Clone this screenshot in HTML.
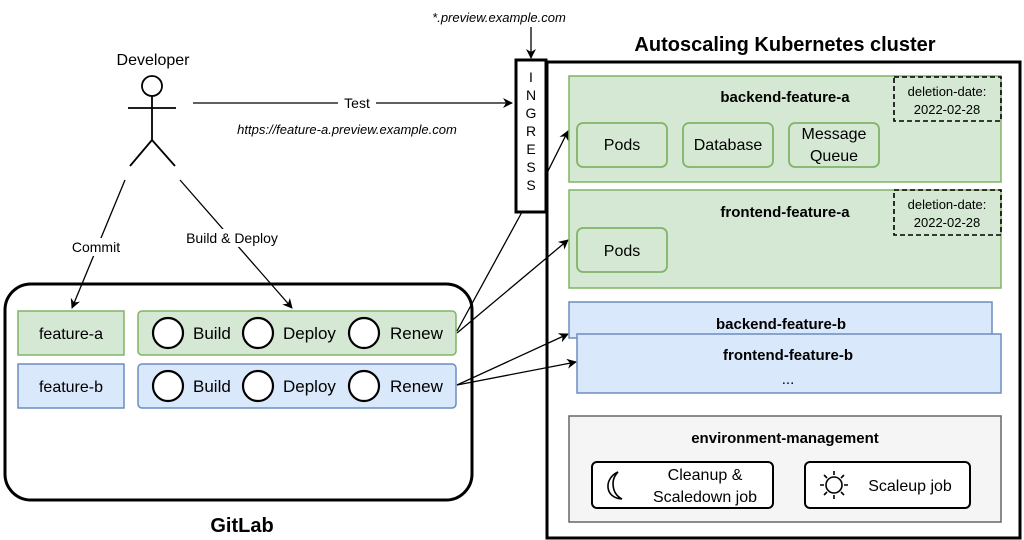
<!DOCTYPE html>
<html><head><meta charset="utf-8"><style>
html,body{margin:0;padding:0;background:#fff;}
svg{display:block;font-family:"Liberation Sans",sans-serif;}
</style></head><body>
<svg width="1024" height="540" viewBox="0 0 1024 540" xmlns="http://www.w3.org/2000/svg">
<defs>
<marker id="ar" viewBox="0 0 10 10" refX="9" refY="5" markerWidth="10" markerHeight="10" orient="auto" markerUnits="userSpaceOnUse">
<path d="M0,0 L10,5 L0,10 L3,5 z" fill="#000"/></marker>
</defs>
<text x="153" y="65" font-size="16" text-anchor="middle">Developer</text>
<g stroke="#000" stroke-width="1.8" fill="none">
<circle cx="152" cy="86" r="10"/>
<line x1="152" y1="96" x2="152" y2="140"/>
<line x1="128" y1="108" x2="176" y2="108"/>
<line x1="152" y1="140" x2="130" y2="166"/>
<line x1="152" y1="140" x2="175" y2="166"/>
</g>
<line x1="193" y1="103" x2="512" y2="103" stroke="#000" stroke-width="1.3" marker-end="url(#ar)"/>
<rect x="338" y="95" width="38" height="16" fill="#fff"/>
<text x="357" y="108" font-size="14" text-anchor="middle">Test</text>
<text x="347" y="134" font-size="13" font-style="italic" text-anchor="middle">https://feature-a.preview.example.com</text>
<line x1="125" y1="180" x2="72" y2="308" stroke="#000" stroke-width="1.3" marker-end="url(#ar)"/>
<line x1="180" y1="180" x2="292" y2="308" stroke="#000" stroke-width="1.3" marker-end="url(#ar)"/>
<rect x="64" y="238" width="64" height="18" fill="#fff"/>
<text x="96" y="252" font-size="14" text-anchor="middle">Commit</text>
<rect x="176" y="229" width="112" height="18" fill="#fff"/>
<text x="232" y="243" font-size="14" text-anchor="middle">Build &amp; Deploy</text>
<rect x="5" y="284" width="467" height="216" rx="26" fill="none" stroke="#000" stroke-width="3"/>
<text x="242" y="532" font-size="20" font-weight="bold" text-anchor="middle">GitLab</text>
<rect x="18" y="311" width="106" height="44" fill="#d5e8d4" stroke="#82b366" stroke-width="1.5"/>
<text x="71" y="339" font-size="16" text-anchor="middle">feature-a</text>
<rect x="138" y="311" width="318" height="44" rx="4" fill="#d5e8d4" stroke="#82b366" stroke-width="1.5"/>
<rect x="18" y="364" width="106" height="44" fill="#dae8fc" stroke="#6c8ebf" stroke-width="1.5"/>
<text x="71" y="392" font-size="16" text-anchor="middle">feature-b</text>
<rect x="138" y="364" width="318" height="44" rx="4" fill="#dae8fc" stroke="#6c8ebf" stroke-width="1.5"/>
<g fill="#fff" stroke="#000" stroke-width="2.2">
<circle cx="168" cy="333" r="15"/><circle cx="258" cy="333" r="15"/><circle cx="364" cy="333" r="15"/>
<circle cx="168" cy="386" r="15"/><circle cx="258" cy="386" r="15"/><circle cx="364" cy="386" r="15"/>
</g>
<g font-size="17">
<text x="193" y="339">Build</text><text x="283" y="339">Deploy</text><text x="390" y="339">Renew</text>
<text x="193" y="392">Build</text><text x="283" y="392">Deploy</text><text x="390" y="392">Renew</text>
</g>
<text x="499" y="22" font-size="13" font-style="italic" text-anchor="middle">*.preview.example.com</text>
<line x1="531" y1="27" x2="531" y2="58" stroke="#000" stroke-width="1.3" marker-end="url(#ar)"/>
<text x="785" y="51" font-size="20" font-weight="bold" text-anchor="middle">Autoscaling Kubernetes cluster</text>
<rect x="547" y="62" width="473" height="476" fill="none" stroke="#000" stroke-width="3"/>
<rect x="516" y="60" width="30" height="152" fill="#fff" stroke="#000" stroke-width="3"/>
<g font-size="14" text-anchor="middle">
<text x="531" y="82">I</text><text x="531" y="100">N</text><text x="531" y="118">G</text><text x="531" y="136">R</text><text x="531" y="154">E</text><text x="531" y="172">S</text><text x="531" y="190">S</text>
</g>
<g stroke="#000" stroke-width="1.3" fill="none">
<line x1="457" y1="331" x2="522" y2="212"/>
<line x1="546" y1="175" x2="568" y2="131" marker-end="url(#ar)"/>
<line x1="457" y1="333" x2="568" y2="240" marker-end="url(#ar)"/>
<line x1="457" y1="385" x2="568" y2="334" marker-end="url(#ar)"/>
<line x1="457" y1="385" x2="576" y2="362" marker-end="url(#ar)"/>
</g>
<rect x="569" y="76" width="432" height="106" fill="#d5e8d4" stroke="#82b366" stroke-width="1.5"/>
<text x="785" y="102" font-size="15" font-weight="bold" text-anchor="middle">backend-feature-a</text>
<rect x="894" y="77" width="107" height="44" fill="none" stroke="#000" stroke-width="1.6" stroke-dasharray="5,3"/>
<text x="947" y="96" font-size="13" text-anchor="middle">deletion-date:</text>
<text x="947" y="114" font-size="13" text-anchor="middle">2022-02-28</text>
<g fill="#d5e8d4" stroke="#82b366" stroke-width="1.8">
<rect x="577" y="123" width="90" height="44" rx="6"/><rect x="683" y="123" width="90" height="44" rx="6"/><rect x="789" y="123" width="90" height="44" rx="6"/>
</g>
<g font-size="16" text-anchor="middle">
<text x="622" y="150">Pods</text><text x="728" y="150">Database</text><text x="834" y="139">Message</text><text x="834" y="161">Queue</text>
</g>
<rect x="569" y="190" width="432" height="98" fill="#d5e8d4" stroke="#82b366" stroke-width="1.5"/>
<rect x="577" y="228" width="90" height="44" rx="6" fill="#d5e8d4" stroke="#82b366" stroke-width="1.8"/>
<text x="622" y="256" font-size="16" text-anchor="middle">Pods</text>
<text x="785" y="217" font-size="15" font-weight="bold" text-anchor="middle">frontend-feature-a</text>
<rect x="894" y="190" width="107" height="45" fill="none" stroke="#000" stroke-width="1.6" stroke-dasharray="5,3"/>
<text x="947" y="209" font-size="13" text-anchor="middle">deletion-date:</text>
<text x="947" y="227" font-size="13" text-anchor="middle">2022-02-28</text>
<rect x="569" y="302" width="423" height="36" fill="#dae8fc" stroke="#6c8ebf" stroke-width="1.5"/>
<text x="781" y="329" font-size="15" font-weight="bold" text-anchor="middle">backend-feature-b</text>
<rect x="577" y="334" width="424" height="59" fill="#dae8fc" stroke="#6c8ebf" stroke-width="1.5"/>
<text x="788" y="360" font-size="15" font-weight="bold" text-anchor="middle">frontend-feature-b</text>
<text x="788" y="384" font-size="15" text-anchor="middle">...</text>
<rect x="569" y="416" width="432" height="106" fill="#f5f5f5" stroke="#666" stroke-width="1.5"/>
<text x="785" y="443" font-size="15" font-weight="bold" text-anchor="middle">environment-management</text>
<rect x="592" y="462" width="181" height="46" rx="5" fill="#fff" stroke="#000" stroke-width="2"/>
<rect x="805" y="462" width="165" height="46" rx="5" fill="#fff" stroke="#000" stroke-width="2"/>
<path d="M618,472 C604,478 604,498 622,499 C612,494 610,480 618,472 z" fill="none" stroke="#000" stroke-width="1.6"/>
<g stroke="#000" stroke-width="1.6" fill="none">
<circle cx="834" cy="485" r="8"/>
<path d="M834,471 L834,475 M834,495 L834,499 M820,485 L824,485 M844,485 L848,485 M824,475 L827,478 M841,492 L844,495 M844,475 L841,478 M827,492 L824,495"/>
</g>
<g font-size="16" text-anchor="middle">
<text x="705" y="480">Cleanup &amp;</text><text x="705" y="502">Scaledown job</text>
<text x="910" y="491">Scaleup job</text>
</g>
</svg>
</body></html>
